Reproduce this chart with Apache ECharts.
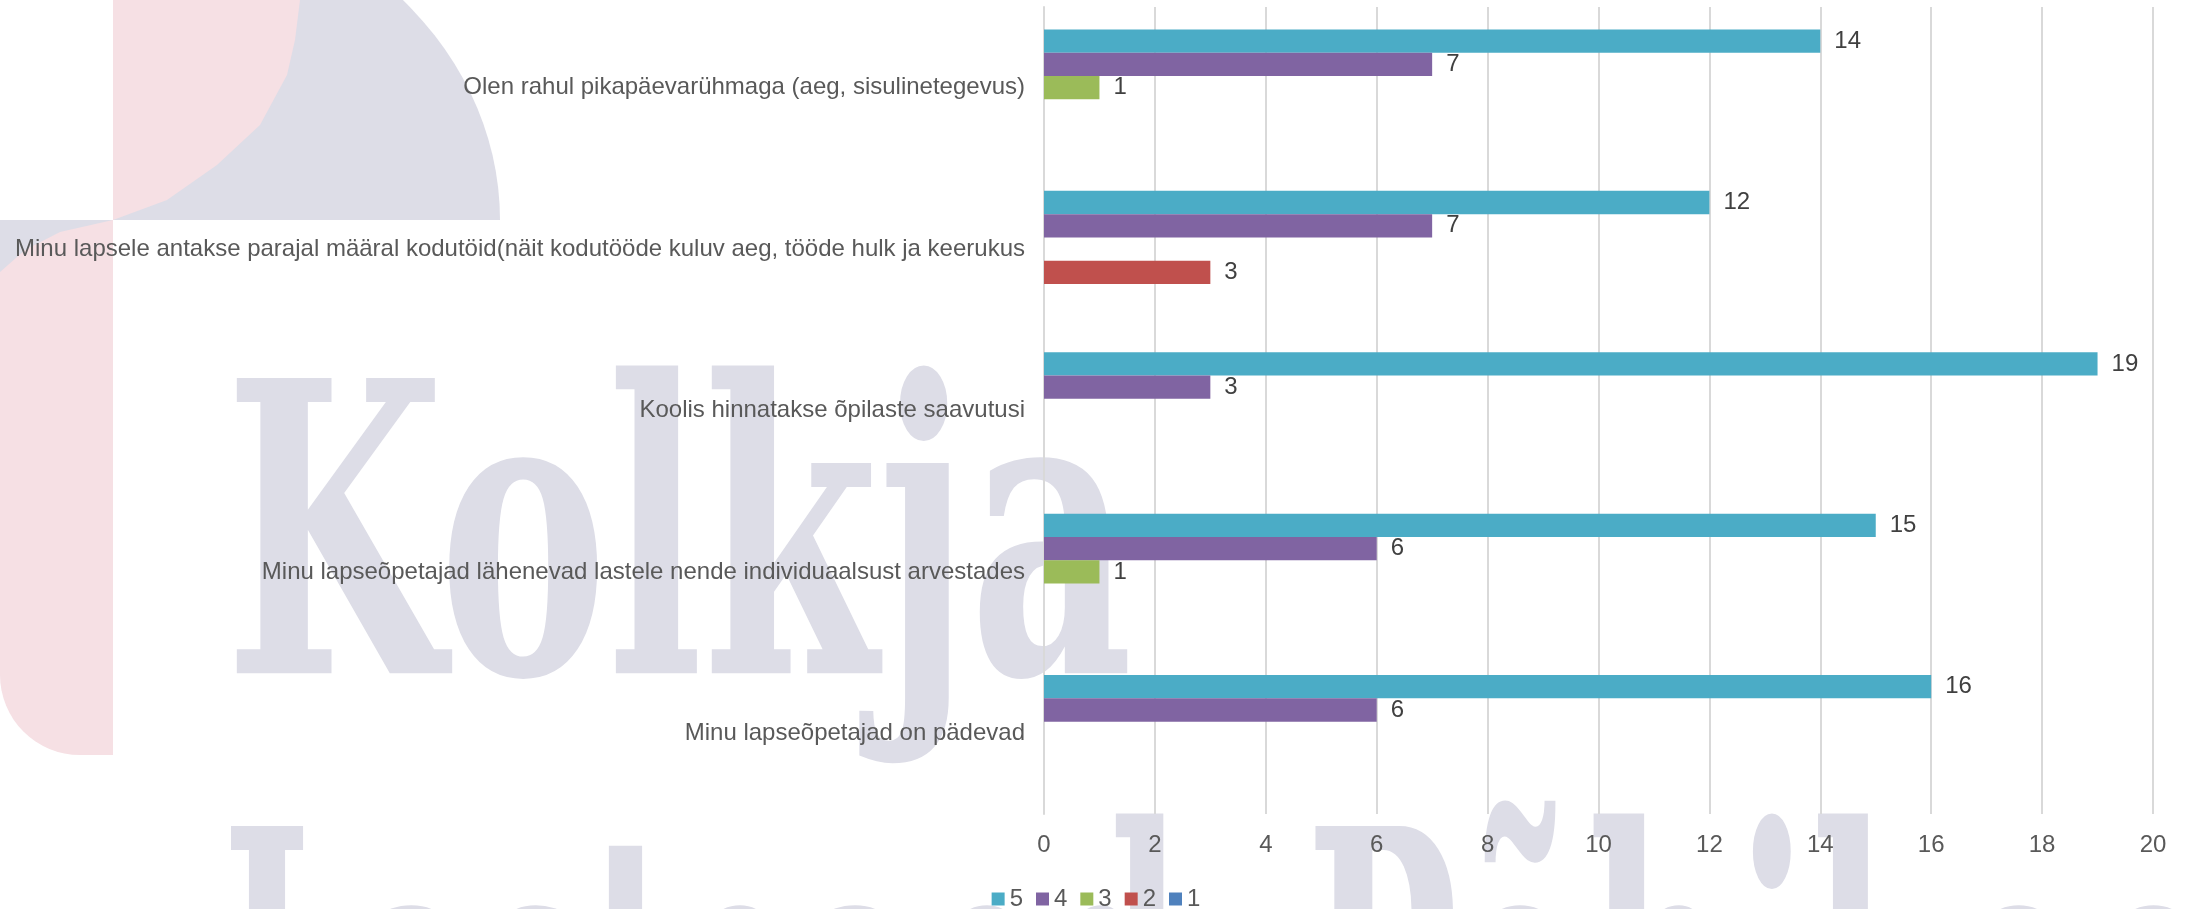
<!DOCTYPE html>
<html>
<head>
<meta charset="utf-8">
<script src="https://cdn.jsdelivr.net/npm/echarts@6/dist/echarts.min.js"></script>
<style>
html, body { margin: 0; padding: 0; background: #fff; }
#chart { width: 2192px; height: 909px; }
</style>
</head>
<body>
<div id="chart"></div>
<script>
// categories from top to bottom
var categories = [
    'Olen rahul pikapäevarühmaga (aeg, sisulinetegevus)',
    'Minu lapsele antakse parajal määral kodutöid(näit kodutööde kuluv aeg, tööde hulk ja keerukus',
    'Koolis hinnatakse õpilaste saavutusi',
    'Minu lapseõpetajad lähenevad lastele nende individuaalsust arvestades',
    'Minu lapseõpetajad on pädevad'
];
var seriesNames = ['5', '4', '3', '2', '1'];
var values5 = [14, 12, 19, 15, 16];
var values4 = [7, 7, 3, 6, 6];
var values3 = [1, null, null, 1, null];
var values2 = [null, 3, null, null, null];
var values1 = [null, null, null, null, null];
var xMin = 0, xMax = 20, xStep = 2;

var colors = ['#4bacc6', '#8064a2', '#9bbb59', '#c0504d', '#4f81bd'];
var seriesValues = [values5, values4, values3, values2, values1];

var myChart = echarts.init(document.getElementById('chart'));

var textFont = 'Liberation Sans, Arial';
var textSize = 24;

// watermark (school name) - fit word widths to the background picture
var wmFont = 'bold 405px "DejaVu Serif"';
var ctx = document.createElement('canvas').getContext('2d');
ctx.font = wmFont;
function fitScale(txt, w) {
    return w / ctx.measureText(txt).width;
}
var scaleKolkja = fitScale('Kolkja', 908);
var scaleLasteaed = fitScale('Lasteaed', 960);
var scalePohikool = fitScale('Põhiko', 780);
var wmColor = '#dddde7';
var pink = '#f6e0e4';

var series = seriesNames.map(function (name, i) {
    return {
        name: name,
        type: 'bar',
        barGap: '0%',
        barCategoryGap: '27.8%',
        itemStyle: { color: colors[i] },
        label: {
            show: true,
            position: 'right',
            distance: 14,
            fontSize: textSize,
            fontFamily: textFont,
            color: '#404040'
        },
        data: seriesValues[i]
    };
});

var option = {
    animation: false,
    backgroundColor: '#fff',
    color: colors,
    graphic: [
        { // logo: lavender quarter
            type: 'sector', z: -100, x: 113, y: 220, scaleY: 332 / 387,
            shape: { cx: 0, cy: 0, r0: 0, r: 387, startAngle: -Math.PI / 2, endAngle: 0 },
            style: { fill: wmColor }
        },
        { // logo: pink lens
            type: 'polygon', z: -99,
            shape: { points: [[113, 0], [300, 0], [295, 40], [287, 75], [260, 125], [217, 165], [167, 200], [113, 220]] },
            style: { fill: pink }
        },
        { // logo: pink lower part
            type: 'rect', z: -99,
            shape: { x: 0, y: 220, width: 113, height: 535, r: [0, 0, 0, 80] },
            style: { fill: pink }
        },
        {
            type: 'polygon', z: -98,
            shape: { points: [[0, 220], [113, 220], [60, 232], [25, 250], [0, 272]] },
            style: { fill: wmColor }
        },
        {
            type: 'text', z: -100, x: 225, y: 568, scaleX: scaleKolkja,
            style: { text: 'Kolkja', font: wmFont, fill: wmColor, textAlign: 'left', verticalAlign: 'middle' }
        },
        {
            type: 'text', z: -100, x: 222, y: 1016, scaleX: scaleLasteaed,
            style: { text: 'Lasteaed', font: wmFont, fill: wmColor, textAlign: 'left', verticalAlign: 'middle' }
        },
        {
            type: 'text', z: -100, x: 1306, y: 1016, scaleX: scalePohikool,
            style: { text: 'Põhikool', font: wmFont, fill: wmColor, textAlign: 'left', verticalAlign: 'middle' }
        }
    ],
    legend: {
        data: seriesNames,
        left: 'center',
        top: 882,
        icon: 'rect',
        itemWidth: 13,
        itemHeight: 13,
        itemGap: 13,
        textStyle: { fontSize: textSize, color: '#595959', fontFamily: textFont }
    },
    grid: {
        left: 1044,
        right: 39,
        top: 7,
        bottom: 95,
        containLabel: false
    },
    xAxis: {
        type: 'value',
        min: xMin,
        max: xMax,
        interval: xStep,
        axisLine: { show: false },
        axisTick: { show: false },
        splitLine: { lineStyle: { color: '#d9d9d9', width: 2 } },
        axisLabel: { fontSize: textSize, color: '#595959', margin: 19, fontFamily: textFont }
    },
    yAxis: {
        type: 'category',
        inverse: true,
        data: categories,
        axisLine: { show: true, lineStyle: { color: '#d9d9d9', width: 2 } },
        axisTick: { show: false },
        axisLabel: { interval: 0, fontSize: textSize, color: '#595959', margin: 19, fontFamily: textFont }
    },
    series: series
};

myChart.setOption(option);
</script>
</body>
</html>
